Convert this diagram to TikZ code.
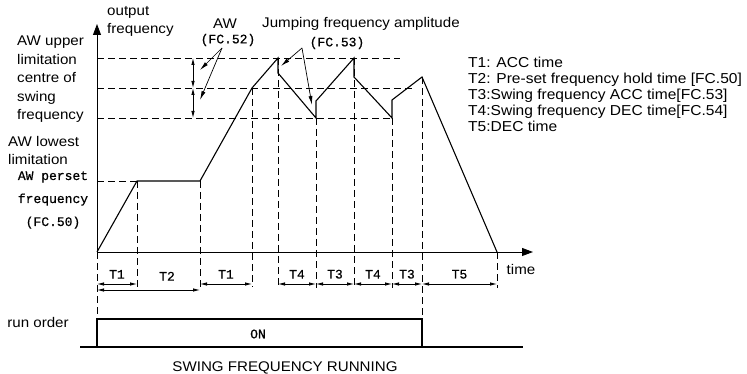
\documentclass[tikz,border=0pt]{standalone}
\usepackage{fontspec}
\setmainfont{Liberation Sans}[FakeStretch=1.08]
\newfontfamily\codefont{Liberation Mono}[FakeBold=0.6]
\usetikzlibrary{arrows.meta}

\begin{document}
\begin{tikzpicture}[
  x=1pt, y=-1pt,
  curve/.style={line width=1.1pt, line join=miter},
  guide/.style={dash pattern=on 7pt off 4pt, line width=0.8pt},
  axis/.style={line width=0.9pt, -{Triangle[length=11pt,width=8pt]}},
  dim/.style={{Latex[length=7pt,width=3.5pt]}-{Latex[length=7pt,width=3.5pt]}, line width=0.8pt},
  ptr/.style={-{Latex[length=9pt,width=4pt]}, line width=0.7pt},
  lbl/.style={font=\fontsize{14}{18.5}\selectfont, inner sep=0pt},
  code/.style={font=\codefont\fontsize{13}{14}\selectfont, inner sep=0pt},
]

\useasboundingbox (0,0) rectangle (747,374);

% axes
\coordinate (o)    at (97,252);
\coordinate (ytop) at (97,24);
\coordinate (xend) at (533,252);
\draw[axis] (o) -- (ytop);
\draw[axis] (o) -- (xend);

% points of the output frequency
\coordinate (acc)   at (137,181);
\coordinate (hold)  at (200,181);
\coordinate (ctr)   at (252,88);
\coordinate (pkA)   at (278,58);
\coordinate (jmpA)  at (278,73);
\coordinate (lowA)  at (316,118);
\coordinate (jmpB)  at (316,101);
\coordinate (pkB)   at (354,58);
\coordinate (jmpC)  at (354,77);
\coordinate (lowB)  at (392,118);
\coordinate (jmpD)  at (392,100);
\coordinate (pkC)   at (422,77);
\coordinate (stop)  at (497,252);

% level lines
\draw[guide] (97,58)  -- (400,58);
\draw[guide] (97,88)  -- (413,88);
\draw[guide] (97,118) -- (392,118);
\draw[guide] (97,181) -- (acc);

% time marks
\draw[guide] (acc)  -- (137,289);
\draw[guide] (hold) -- (200,289);
\draw[guide] (ctr)  -- (252,287);
\draw[guide] (pkA)  -- (278,288);
\draw[guide] (lowA) -- (316,288);
\draw[guide] (pkB)  -- (354,288);
\draw[guide] (lowB) -- (392,288);
\draw[guide] (pkC)  -- (422,319);
\draw[guide] (stop) -- (497,288);
\draw[guide] (o)    -- (97,319);

\draw[curve] (o) -- (acc) -- (hold) -- (ctr) -- (pkA) -- (jmpA) -- (lowA)
  -- (jmpB) -- (pkB) -- (jmpC) -- (lowB) -- (jmpD) -- (pkC) -- (stop);

% swing amplitude
\draw[dim] (193,58) -- (193,88);
\draw[dim] (193,88) -- (193,118);

\node[lbl]  (aw)     at (225,24) {AW};
\node[code] (fc52)   at (228,40) {(FC.52)};
\node[lbl]  (jump)   at (361,24) {Jumping frequency amplitude};
\node[code] (fc53)   at (337,43) {(FC.53)};

\coordinate (awfork)   at (222,48);
\coordinate (jumpfork) at (302,48);
\draw[ptr] (awfork) -- (200,70);
\draw[ptr] (awfork) -- (200,100);
\draw[ptr] (jumpfork) -- (281,66);
\draw[ptr] (jumpfork) -- (312,105);

% axis labels
\node[lbl, align=left, anchor=north west] (yname) at (107,6)
  {output\\frequency};
\node[lbl] (tname) at (521,269) {time};

\node[lbl, align=left, anchor=north west] (upper) at (17,36)
  {AW upper\\limitation\\centre of\\swing\\frequency};
\node[lbl, align=left, anchor=north west] (lowest) at (8,136)
  {AW lowest\\limitation};
\node[code, align=center, font=\codefont\fontsize{13}{23}\selectfont] (perset) at (53,200)
  {AW perset\\frequency\\(FC.50)};

% intervals
\draw[dim] (97,284)  -- node[code, above=5pt] (t1a) {T1} (137,284);
\draw[dim] (97,290)  -- node[code, above=9pt, pos=0.68] (t2) {T2} (200,290);
\draw[dim] (200,284) -- node[code, above=5pt] (t1b) {T1} (252,284);
\draw[dim] (278,284) -- node[code, above=5pt] (t4a) {T4} (316,284);
\draw[dim] (316,284) -- node[code, above=5pt] (t3a) {T3} (354,284);
\draw[dim] (354,284) -- node[code, above=5pt] (t4b) {T4} (392,284);
\draw[dim] (392,284) -- node[code, above=5pt] (t3b) {T3} (422,284);
\draw[dim] (422,284) -- node[code, above=5pt] (t5)  {T5} (497,284);

% legend
\node[lbl, align=left, anchor=north west, font=\fontsize{14.4}{16}\selectfont] (legend) at (468,57)
  {T1: ACC time\\
   T2: Pre-set frequency hold time [FC.50]\\
   T3:Swing frequency ACC time[FC.53]\\
   T4:Swing frequency DEC time[FC.54]\\
   T5:DEC time};

% run order
\draw[curve] (80,347) -- (523,347);
\draw[curve] (97,347) -- (97,319) -- (422,319) -- (422,347);
\node[lbl]  (run) at (38,322)  {run order};
\node[code] (on)  at (258,334) {ON};
\node[lbl]  (cap) at (285,368) {SWING FREQUENCY RUNNING};

\end{tikzpicture}
\end{document}
